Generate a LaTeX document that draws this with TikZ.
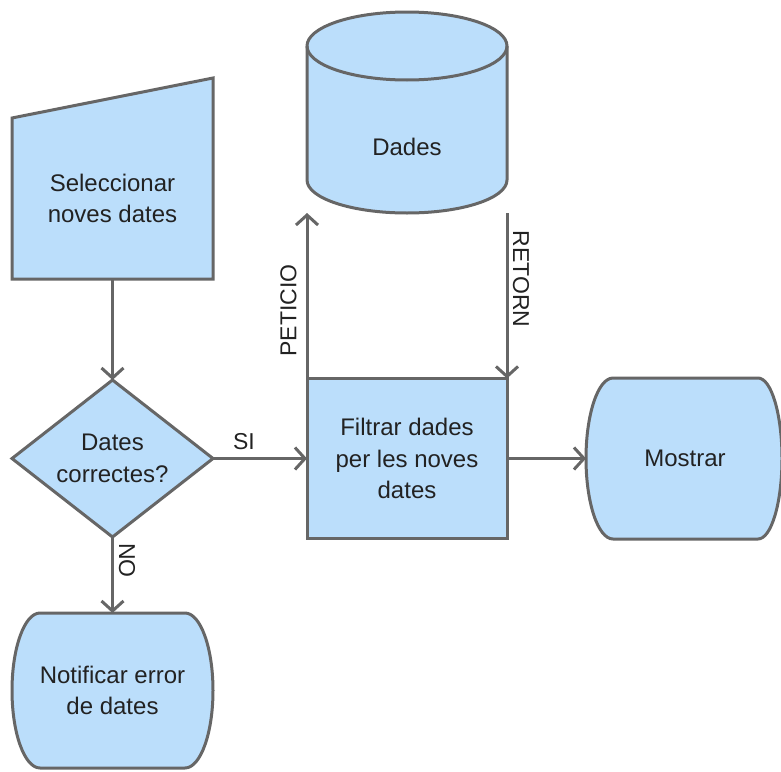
\documentclass[tikz,border=0pt]{standalone}
\usepackage{fontspec}
\setmainfont{Liberation Sans}
\usetikzlibrary{arrows.meta}
\definecolor{boxfill}{HTML}{BBDEFB}
\definecolor{edgegray}{HTML}{666666}
\definecolor{ink}{HTML}{222222}
\begin{document}
\begin{tikzpicture}[x=1pt,y=1pt,
  outline/.style={draw=edgegray, fill=boxfill, line width=3pt},
  area/.style={rectangle, inner sep=0pt, outer sep=0pt, align=center,
    text=ink, font=\fontsize{24}{31.5}\selectfont},
  flow/.style={draw=edgegray, line width=3pt,
    -{Straight Barb[length=10pt,width=22pt]}},
  tag/.style={text=ink, inner sep=0pt, font=\fontsize{23}{28}\selectfont}]
\useasboundingbox (0,0) rectangle (781,-771);

% manual input
\draw[outline] (12,-118) -- (213,-78) -- (213,-279) -- (12,-279) -- cycle;
\node[area, minimum width=201, minimum height=161] (sel) at (112.5,-198.5)
  {Seleccionar\\noves dates};

% decision
\draw[outline] (12,-458.5) -- (112.5,-380) -- (213,-458.5) -- (112.5,-537) -- cycle;
\node[area, minimum width=201, minimum height=157] (dia) at (112.5,-458.5)
  {Dates\\correctes?};

% process
\node[area, outline, minimum width=200, minimum height=160] (filt) at (407,-458.5)
  {Filtrar dades\\per les noves\\dates};

% database
\draw[outline] (307,-46) -- (307,-180)
  arc[start angle=180, end angle=360, x radius=100, y radius=33]
  -- (507,-46)
  arc[start angle=0, end angle=180, x radius=100, y radius=34] -- cycle;
\draw[draw=edgegray, line width=3pt] (307,-46)
  arc[start angle=180, end angle=360, x radius=100, y radius=34];
\node[area, minimum width=200, minimum height=133] (db) at (407,-146.5) {Dades};

% display: Mostrar
\draw[outline] (613,-378) -- (758,-378)
  arc[start angle=90, end angle=-90, x radius=24, y radius=80.5]
  -- (613,-539)
  arc[start angle=270, end angle=90, x radius=27, y radius=80.5] -- cycle;
\node[area, minimum width=198, minimum height=161] (show) at (685,-458.5) {Mostrar};

% display: error message
\draw[outline] (40,-613) -- (185,-613)
  arc[start angle=90, end angle=-90, x radius=28, y radius=77.5]
  -- (40,-768)
  arc[start angle=270, end angle=90, x radius=28, y radius=77.5] -- cycle;
\node[area, minimum width=201, minimum height=155] (err) at (112.5,-690.5)
  {Notificar error\\de dates};

% connectors
\draw[flow] (sel.south) -- (dia.north);
\draw[flow] (dia.east) -- node[tag, pos=0.33, yshift=16.5pt] {SI} (filt.west);
\draw[flow] (dia.south) -- node[tag, pos=0.31, xshift=14.5pt, rotate=-90] {NO} (err.north);
\draw[flow] (filt.north west) -- node[tag, pos=0.41, xshift=-18.5pt, rotate=90] {PETICIO} (db.south west);
\draw[flow] (db.south east) -- node[tag, pos=0.40, xshift=14pt, rotate=-90] {RETORN} (filt.north east);
\draw[flow] (filt.east) -- (show.west);
\end{tikzpicture}
\end{document}
